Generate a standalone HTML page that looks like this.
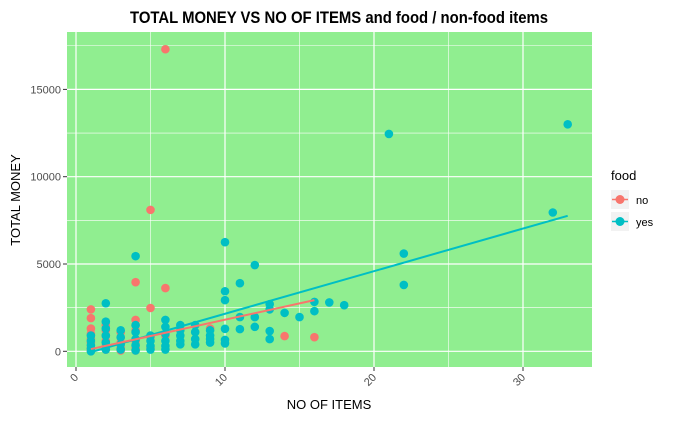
<!DOCTYPE html>
<html><head><meta charset="utf-8"><style>
body{margin:0;background:#fff;font-family:"Liberation Sans",sans-serif;}
svg text{font-family:"Liberation Sans",sans-serif;}
</style></head><body>
<svg id="chart" width="678" height="419" viewBox="0 0 678 419" xmlns="http://www.w3.org/2000/svg">
<rect width="678" height="419" fill="#fff"/>
<text x="130" y="23" textLength="418" lengthAdjust="spacingAndGlyphs" font-size="17" font-weight="bold" fill="#000">TOTAL MONEY VS NO OF ITEMS and food / non-food items</text>
<rect x="67" y="32" width="525" height="335" fill="#90EE90"/>
<g id="grid"></g>
<g id="axes"></g>
<g id="points"></g>
<g id="lines"></g>
<text x="329" y="409" text-anchor="middle" font-size="13" fill="#000">NO OF ITEMS</text>
<text transform="translate(20,200) rotate(-90)" text-anchor="middle" font-size="13" fill="#000">TOTAL MONEY</text>
<g>
<text x="611" y="180" font-size="13" fill="#000">food</text>
<rect x="611" y="190" width="18" height="19" fill="#f2f2f2"/>
<line x1="612" y1="199.5" x2="628" y2="199.5" stroke="#F8766D" stroke-width="1.5"/>
<circle cx="620" cy="199.5" r="4.5" fill="#F8766D"/>
<text x="636" y="204" font-size="11" fill="#000">no</text>
<rect x="611" y="212" width="18" height="19" fill="#f2f2f2"/>
<line x1="612" y1="221.5" x2="628" y2="221.5" stroke="#00BFC4" stroke-width="1.5"/>
<circle cx="620" cy="221.5" r="4.5" fill="#00BFC4"/>
<text x="636" y="226" font-size="11" fill="#000">yes</text>
</g>
</svg>
<script>
const xTicks=[0,10,20,30];
const yTicks=[0,5000,10000,15000];
const noX=[1,1,1,1,1,1,1,1,2,2,2,2,2,2,3,3,3,3,3,4,4,4,4,4,4,4,5,5,5,5,6,6,6,9,14,16];
const noY=[2400,1900,1300,1000,700,500,200,50,1500,1200,900,600,300,100,1100,800,500,200,50,3960,1800,1500,1200,600,200,50,8100,2480,800,200,17300,3620,900,1300,870,810];
const yesX=[1,1,1,1,1,2,2,2,2,2,2,3,3,3,3,4,4,4,4,4,4,5,5,5,5,6,6,6,6,6,6,7,7,7,7,7,8,8,8,8,9,9,9,9,10,10,10,10,10,10,11,11,11,12,12,12,13,13,13,13,14,15,16,16,17,18,21,22,22,32,33];
const yesY=[900,600,350,150,0,2750,1700,1300,900,500,100,1200,800,400,100,5450,1500,1100,700,350,50,900,600,300,100,1800,1400,1000,600,300,100,1500,1200,900,600,400,1500,1100,700,400,1200,900,700,500,6250,3440,2930,1290,650,450,3900,1960,1270,4940,1960,1400,2700,1160,700,2400,2200,1960,2830,2300,2800,2640,12450,5600,3800,7950,13000];
// trend line coefficients: [slope, intercept]
const noTrend=[187,-60];
const yesTrend=[244,-290];
const X0=76,XS=14.9,Y0=351.3,YS=0.01746;
const sx=v=>X0+v*XS, sy=v=>Y0-v*YS;
const NS='http://www.w3.org/2000/svg';
function mk(tag,attrs,parent){const e=document.createElementNS(NS,tag);for(const k in attrs)e.setAttribute(k,attrs[k]);parent.appendChild(e);return e;}
const grid=document.getElementById('grid'),axes=document.getElementById('axes');
for(let i=0;i<xTicks.length;i++){const m=xTicks[i]+5;if(sx(m)<592)mk('line',{x1:sx(m),x2:sx(m),y1:32,y2:367,stroke:'#fff','stroke-width':0.6},grid);}
for(let i=0;i<yTicks.length;i++){const m=yTicks[i]+2500;if(sy(m)>32)mk('line',{x1:67,x2:592,y1:sy(m),y2:sy(m),stroke:'#fff','stroke-width':0.6},grid);}
for(const t of xTicks){
 const l=mk('line',{x1:sx(t),x2:sx(t),y1:32,y2:367,stroke:'#fff','stroke-width':1.2},grid);
 
 
 mk('line',{x1:sx(t),x2:sx(t),y1:367,y2:371,stroke:'#333'},axes);
 const tx=mk('text',{transform:`translate(${sx(t)+3},${378}) rotate(-45)`,'text-anchor':'end','font-size':11,fill:'#4d4d4d'},axes);
 tx.textContent=t;
 
 
}
for(const t of yTicks){
 const l=mk('line',{x1:67,x2:592,y1:sy(t),y2:sy(t),stroke:'#fff','stroke-width':1.2},grid);
 
 
 mk('line',{x1:63,x2:67,y1:sy(t),y2:sy(t),stroke:'#333'},axes);
 const tx=mk('text',{x:61,y:sy(t)+4,'text-anchor':'end','font-size':11,fill:'#4d4d4d'},axes);
 tx.textContent=t;
 
 
}
const pts=document.getElementById('points'),lines=document.getElementById('lines');
function series(xs,ys,col,name){
 for(let i=0;i<xs.length;i++){
  const c=mk('circle',{cx:sx(xs[i]),cy:sy(ys[i]),r:4.3,fill:col},pts);
  
  
 }
}
function trend(xs,coef,col,name){
 const [s,b]=coef;const x1=Math.min(...xs),x2=Math.max(...xs);
 const l=mk('line',{x1:sx(x1),y1:sy(s*x1+b),x2:sx(x2),y2:sy(s*x2+b),stroke:col,'stroke-width':2},lines);
 
 
}
series(noX,noY,'#F8766D','no');
series(yesX,yesY,'#00BFC4','yes');
trend(yesX,yesTrend,'#00BFC4','yes');
trend(noX,noTrend,'#F8766D','no');
</script>
</body></html>
